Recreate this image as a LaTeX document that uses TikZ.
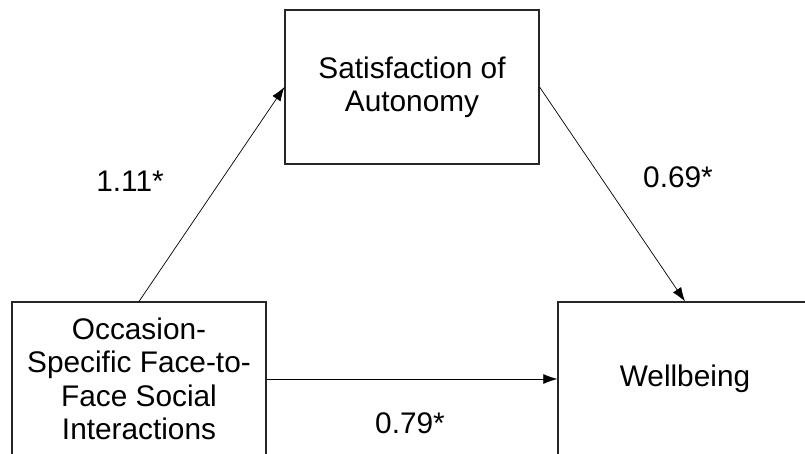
\documentclass[tikz,border=0pt]{standalone}
\usepackage{fontspec}
\setmainfont{Liberation Sans}
\usetikzlibrary{arrows.meta}

\tikzset{
  box/.style={draw=black!85, line width=0.8pt, minimum width=6.35cm, minimum height=3.85cm,
    align=center, inner sep=0pt, font=\fontsize{21.2}{23.7}\selectfont},
  coef/.style={font=\fontsize{21.2}{23.7}\selectfont},
  path/.style={->, >={Latex[length=10pt,width=7pt]}, line width=0.5pt}
}

\begin{document}
\begin{tikzpicture}

\useasboundingbox (0,0) rectangle (20.125,11.35);

% Boxes
  \node[box] (auto) at (10.3,9.175) {Satisfaction of\\Autonomy};
  \node[box] (f2f) at (3.475,1.875) {Occasion-\\Specific Face-to-\\Face Social\\Interactions};
  \node[box] (well) at (17.125,1.875) {Wellbeing};

% Arrows
  \draw[path] (f2f.north) -- (auto.west);
  \draw[path] (auto.east) -- (well.north);
  \draw[path] (f2f.east) -- (well.west);

% Labels
  \node[coef] (a) at (3.25,6.825) {1.11*};
  \node[coef] (b) at (16.95,6.925) {0.69*};
  \node[coef] (c) at (10.25,0.775) {0.79*};

\end{tikzpicture}
\end{document}
